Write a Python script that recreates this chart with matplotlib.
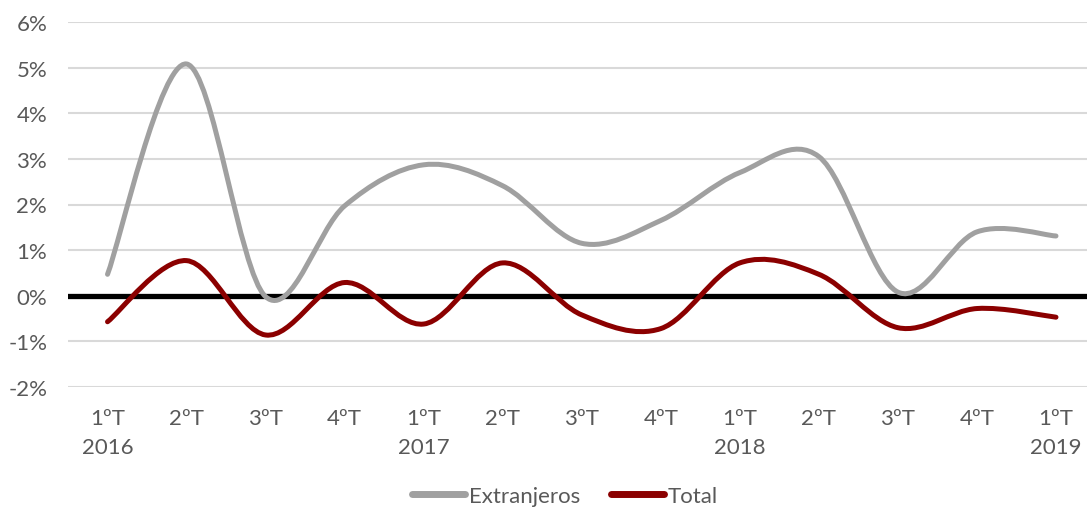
import matplotlib
matplotlib.use("Agg")
import matplotlib.pyplot as plt
import numpy as np
from matplotlib.path import Path
from matplotlib.patches import PathPatch
from matplotlib.lines import Line2D
from matplotlib.ticker import FuncFormatter

# ---- data ----
quarters = ["1ºT\n2016", "2ºT", "3ºT", "4ºT", "1ºT\n2017", "2ºT", "3ºT", "4ºT",
            "1ºT\n2018", "2ºT", "3ºT", "4ºT", "1ºT\n2019"]
extranjeros = [0.47, 5.08, -0.02, 1.97, 2.87, 2.41, 1.15, 1.65, 2.70, 3.05, 0.08, 1.40, 1.31]
total = [-0.57, 0.77, -0.86, 0.29, -0.62, 0.72, -0.42, -0.72, 0.72, 0.47, -0.70, -0.28, -0.47]
yticks = [-2, -1, 0, 1, 2, 3, 4, 5, 6]

GREY = "#A0A0A0"
RED = "#8B0000"
TXT = "#595959"

plt.rcParams['font.family'] = ['Lato', 'DejaVu Sans']


def smooth_path(xs, ys):
    """Excel-like smoothed line: cubic Bezier through points (Catmull-Rom tangents)."""
    pts = np.column_stack([xs, ys]).astype(float)
    n = len(pts)
    verts = [pts[0]]
    codes = [Path.MOVETO]
    for i in range(n - 1):
        p0 = pts[i - 1] if i > 0 else pts[i]
        p1 = pts[i]
        p2 = pts[i + 1]
        p3 = pts[i + 2] if i + 2 < n else pts[i + 1]
        c1 = p1 + (p2 - p0) / 6.0
        c2 = p2 - (p3 - p1) / 6.0
        verts += [c1, c2, p2]
        codes += [Path.CURVE4] * 3
    return Path(verts, codes)


fig = plt.figure(figsize=(10.87, 5.10), dpi=100)
ax = fig.add_axes([68 / 1087, 1 - 388 / 510, 1 - 68 / 1087, (388 - 23) / 510])

x = np.arange(len(quarters))

ax.set_ylim(-2, 6)
ax.set_xlim(-0.5, (1087 - 108) / 79)
ax.set_yticks(yticks)
ax.yaxis.set_major_formatter(FuncFormatter(lambda v, p: f"{int(round(v))}%"))
ax.set_xticks(x)
ax.set_xticklabels(quarters, linespacing=1.6)

ax.grid(axis='y', color="#D9D9D9", linewidth=1.5)
ax.set_axisbelow(True)
for s in ax.spines.values():
    s.set_visible(False)
ax.tick_params(axis='both', length=0, labelsize=16, labelcolor=TXT)
ax.tick_params(axis='y', pad=15)
ax.tick_params(axis='x', pad=15)

ax.axhline(0, color="black", linewidth=3.8, zorder=2)

for ys, col in [(extranjeros, GREY), (total, RED)]:
    patch = PathPatch(smooth_path(x, ys), facecolor='none', edgecolor=col,
                      linewidth=3.6, capstyle='round', joinstyle='round', zorder=3)
    ax.add_patch(patch)

handles = [Line2D([], [], color=GREY, linewidth=5, solid_capstyle='round'),
           Line2D([], [], color=RED, linewidth=5, solid_capstyle='round')]
leg = fig.legend(handles, ["Extranjeros", "Total"], loc='center',
                 bbox_to_anchor=(565 / 1087, 1 - 497 / 510), ncol=2, frameon=False,
                 fontsize=16, handlelength=2.4, handletextpad=0.15, columnspacing=1.4)
for t in leg.get_texts():
    t.set_color(TXT)

fig.savefig("out.png", dpi=100)
